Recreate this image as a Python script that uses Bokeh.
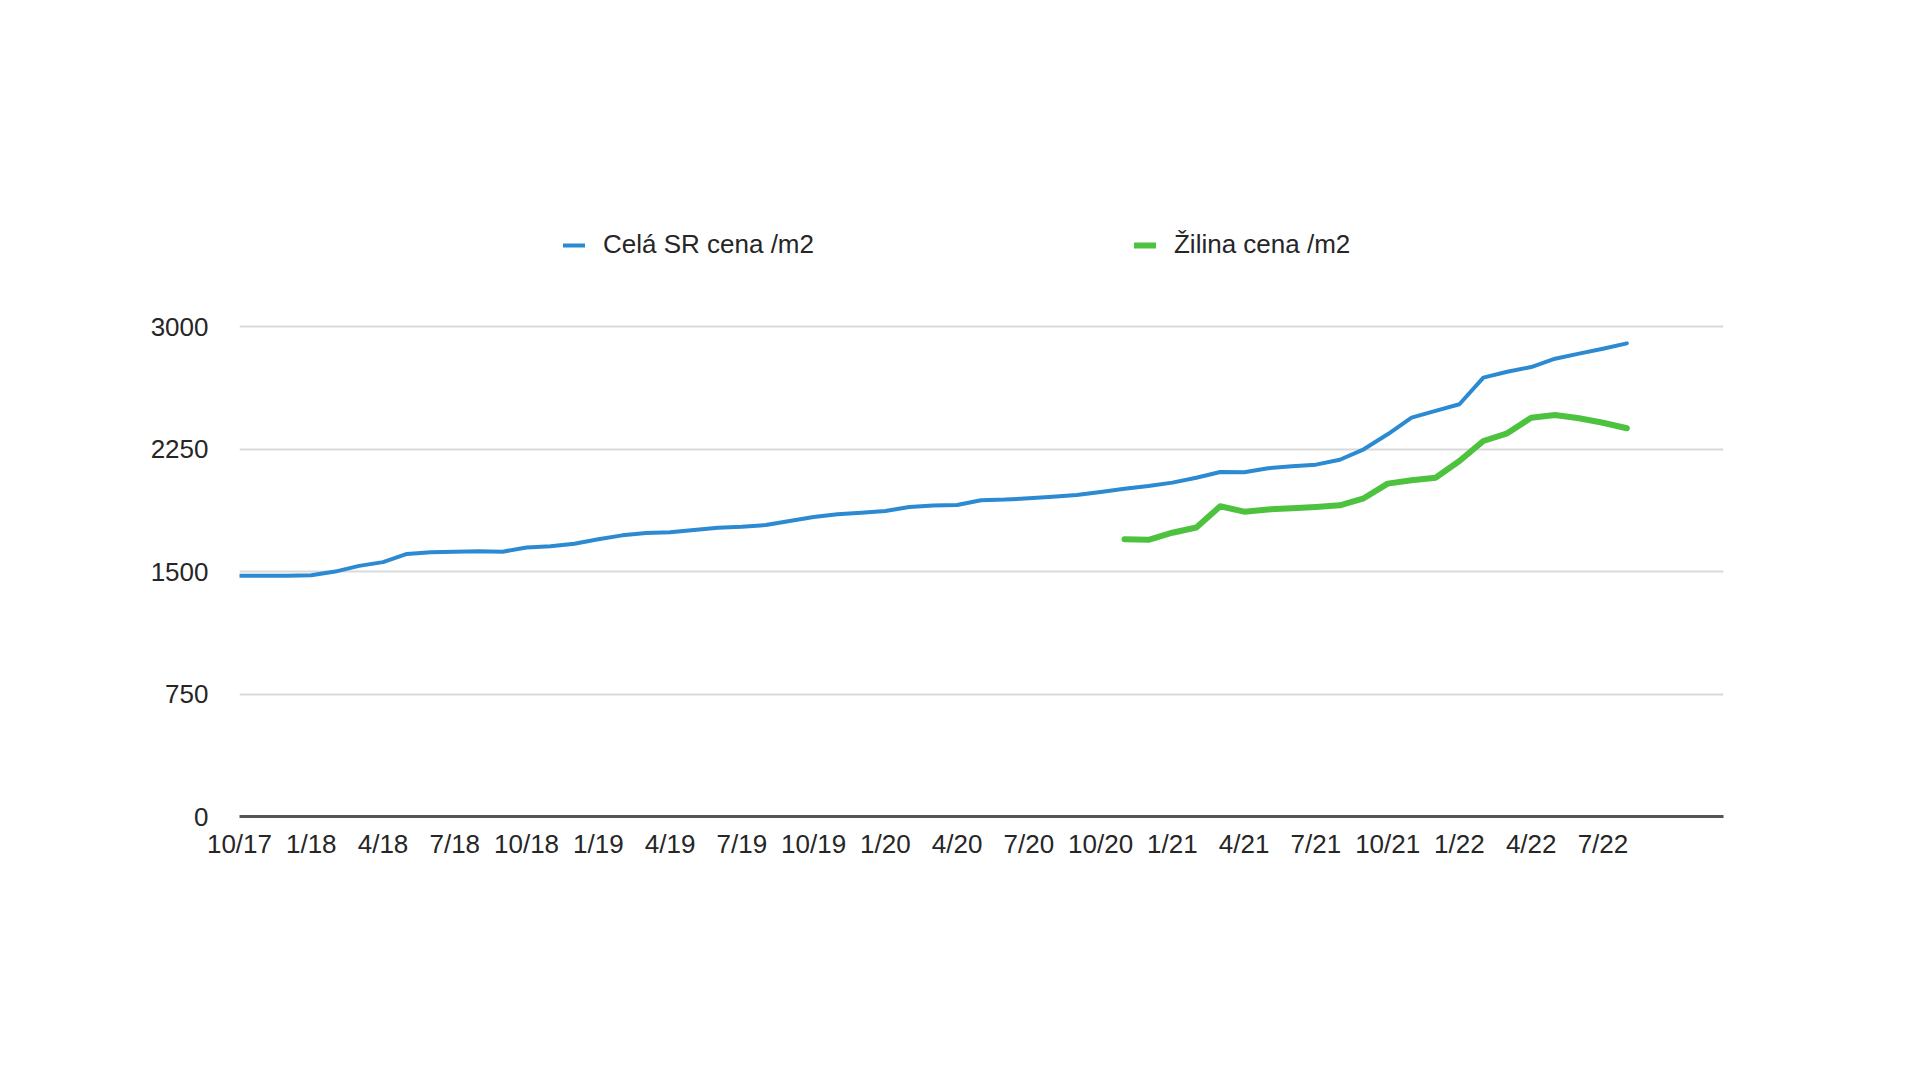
from bokeh.plotting import figure
from bokeh.models import Legend, LegendItem, FixedTicker, Range1d
from bokeh.embed import file_html
from bokeh.resources import INLINE

# ---- data (monthly, month 0 = 10/2017) ----
tick_labels = ["10/17", "1/18", "4/18", "7/18", "10/18", "1/19", "4/19", "7/19",
               "10/19", "1/20", "4/20", "7/20", "10/20", "1/21", "4/21", "7/21",
               "10/21", "1/22", "4/22", "7/22"]

cela_sr = [1475, 1475, 1475, 1478, 1500, 1535, 1558, 1608, 1618, 1622,
           1625, 1622, 1648, 1655, 1671, 1698, 1722, 1736, 1741, 1755,
           1769, 1775, 1785, 1810, 1834, 1851, 1861, 1871, 1896, 1905,
           1908, 1937, 1941, 1949, 1959, 1969, 1988, 2008, 2024, 2045,
           2075, 2110, 2108, 2133, 2145, 2155, 2185, 2249, 2341, 2443,
           2484, 2525, 2688, 2724, 2753, 2804, 2835, 2865, 2898]

zilina_start_month = 37  # 11/20
zilina = [1698, 1695, 1738, 1770, 1900, 1867, 1881, 1888, 1896, 1906,
          1949, 2039, 2059, 2075, 2177, 2300, 2347, 2443, 2459, 2439,
          2412, 2378]

y_ticks = [0, 750, 1500, 2250, 3000]

months_sr = list(range(len(cela_sr)))
months_zi = [zilina_start_month + i for i in range(len(zilina))]
x_ticks = [3 * i for i in range(len(tick_labels))]

FONT = "Liberation Sans"
TEXT_COLOR = "#262626"
BLUE = "#2B8AD2"
GREEN = "#4DC23E"

p = figure(width=1904, height=1064, output_backend="svg", toolbar_location=None,
           x_range=Range1d(0, 62.04), y_range=Range1d(0, 3724),
           min_border_left=239, min_border_right=181,
           min_border_top=208, min_border_bottom=248)
p.outline_line_color = None
p.background_fill_color = "white"
p.border_fill_color = "white"

r1 = p.line(months_sr, cela_sr, line_color=BLUE, line_width=4,
            line_join="round", line_cap="round")
r2 = p.line(months_zi, zilina, line_color=GREEN, line_width=6,
            line_join="round", line_cap="round")

# grid
p.xgrid.visible = False
p.ygrid.ticker = FixedTicker(ticks=y_ticks)
p.ygrid.grid_line_color = "#d9d9d9"
p.ygrid.grid_line_width = 2

# y axis
p.yaxis.ticker = FixedTicker(ticks=y_ticks)
p.yaxis.axis_line_color = None
p.yaxis.major_tick_line_color = None
p.yaxis.minor_tick_line_color = None
p.yaxis.major_tick_out = 0
p.yaxis.major_tick_in = 0
p.yaxis.major_label_standoff = 31
p.yaxis.major_label_text_font = FONT
p.yaxis.major_label_text_font_size = "26px"
p.yaxis.major_label_text_color = TEXT_COLOR

# x axis
p.xaxis.ticker = FixedTicker(ticks=x_ticks)
p.xaxis.major_label_overrides = {t: lab for t, lab in zip(x_ticks, tick_labels)}
p.xaxis.axis_line_color = "#555555"
p.xaxis.axis_line_width = 3
p.xaxis.major_tick_line_color = None
p.xaxis.minor_tick_line_color = None
p.xaxis.major_tick_out = 0
p.xaxis.major_tick_in = 0
p.xaxis.major_label_standoff = 12
p.xaxis.major_label_text_font = FONT
p.xaxis.major_label_text_font_size = "26px"
p.xaxis.major_label_text_color = TEXT_COLOR

legend = Legend(items=[LegendItem(label="Celá SR cena /m2", renderers=[r1]),
                       LegendItem(label="Žilina cena /m2", renderers=[r2])],
                orientation="horizontal", location=(324, 556),
                spacing=320, glyph_width=22, glyph_height=30, label_standoff=18,
                padding=0, margin=0, border_line_color=None,
                background_fill_alpha=0,
                label_text_font=FONT, label_text_font_size="26px",
                label_text_color=TEXT_COLOR)
p.add_layout(legend, "center")

open("out.html", "w").write(file_html(p, INLINE))
